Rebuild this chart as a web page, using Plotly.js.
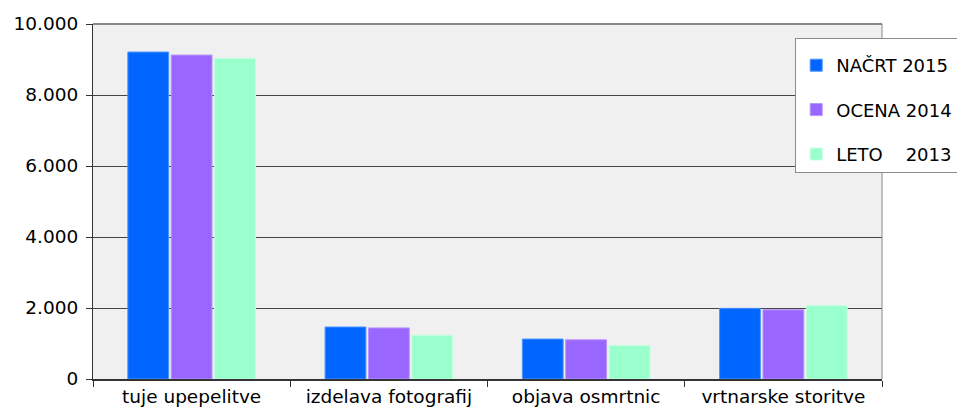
<!DOCTYPE html>
<html><head><meta charset="utf-8">
<script src="https://cdn.plot.ly/plotly-3.0.1.min.js"></script>
<style>body{margin:0}#c{width:957px;height:416px}</style>
</head><body><div id="c"></div>
<script>
const categories = ["tuje upepelitve", "izdelava fotografij", "objava osmrtnic", "vrtnarske storitve"];
const seriesNames = ["NAČRT 2015", "OCENA 2014", "LETO\u00a0\u00a0\u00a0\u00a02013"];
const nacrt2015 = [9210, 1465, 1125, 1990];
const ocena2014 = [9125, 1440, 1105, 1950];
const leto2013 = [9030, 1230, 940, 2065];
const colors = ["#0066FF", "#9966FF", "#99FFCC"];
const lineColors = ["#4D94FF", "#B894FF", "#C2FFE0"];

const values = [nacrt2015, ocena2014, leto2013];
const traces = values.map((v, i) => ({
  type: "bar", x: categories, y: v, name: seriesNames[i],
  legendgroup: "g" + i,
  marker: {color: colors[i], line: {color: lineColors[i], width: 1}}
}));

const layout = {
  width: 957, height: 416,
  margin: {l: 93, r: 75, t: 24, b: 37, autoexpand: false},
  paper_bgcolor: "#ffffff", plot_bgcolor: "#f0f0f0",
  separators: ",.",
  font: {family: "DejaVu Sans, Verdana, sans-serif", size: 18.5, color: "#000"},
  barmode: "group", bargap: 0.34, bargroupgap: 0.06,
  showlegend: true,
  legend: {x: 0.89, y: 0.96, xanchor: "left", yanchor: "top", bgcolor: "#ffffff",
    bordercolor: "#8c8c8c", borderwidth: 1, font: {size: 18}, tracegroupgap: 18,
    itemwidth: 30, traceorder: "grouped", title: {text: "\u00a0", font: {size: 6}}},
  xaxis: {showline: true, linecolor: "#333", linewidth: 2, mirror: false,
    ticks: "outside", tickson: "boundaries", ticklen: 6, tickcolor: "#333",
    showgrid: false, tickfont: {size: 18.5}},
  yaxis: {range: [0, 10000], dtick: 2000, tickformat: ",d", showline: true, linecolor: "#333",
    linewidth: 1, ticks: "outside", ticklen: 6, tickcolor: "#333", ticklabelstandoff: 4,
    showgrid: true, gridcolor: "#444", gridwidth: 1, zeroline: false, tickfont: {size: 18.5}},
  shapes: [
    {type: "line", xref: "paper", yref: "paper", x0: 0, x1: 1, y0: 1, y1: 1, line: {color: "#888", width: 2}},
    {type: "line", xref: "paper", yref: "paper", x0: 1, x1: 1, y0: 0, y1: 1, line: {color: "#888", width: 1}}
  ]
};
Plotly.newPlot("c", traces, layout, {displayModeBar: false});
</script></body></html>
